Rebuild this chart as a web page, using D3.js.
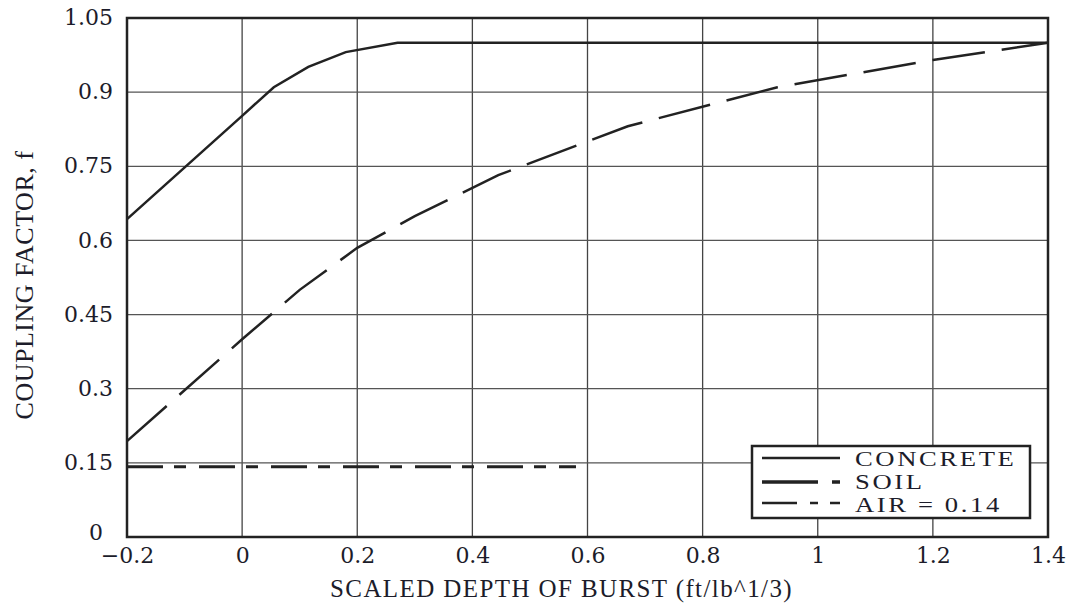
<!DOCTYPE html>
<meta charset="utf-8">
<style>
body { margin: 0; background: #fff; }
text { font-family: "Liberation Serif", "DejaVu Serif", serif; fill: #1c1c2a; }
</style>
<body>
<div id="chart"></div>
<script src="https://cdn.jsdelivr.net/npm/d3@7/dist/d3.min.js"></script>
<script>

// data
var concreteX = [-0.2, 0.0, 0.055, 0.115, 0.18, 0.27, 1.4];
var concreteY = [0.643, 0.852, 0.91, 0.951, 0.981, 1.0, 1.0];

var soilX = [-0.2, 0.0, 0.1, 0.2, 0.3, 0.445, 0.67, 0.93, 1.2, 1.4];
var soilY = [0.194, 0.40, 0.50, 0.585, 0.649, 0.732, 0.831, 0.91, 0.965, 1.0];

var airX = [-0.2, 0.58];
var airY = [0.142, 0.142];

var xTicks = [-0.2, 0, 0.2, 0.4, 0.6, 0.8, 1, 1.2, 1.4];
var yTicks = [0, 0.15, 0.3, 0.45, 0.6, 0.75, 0.9, 1.05];
var legendNames = ["CONCRETE", "SOIL", "AIR = 0.14"];

var width = 1076, height = 606;
var margin = {top: 18, right: 28, bottom: 69, left: 127};

var svg = d3.select("#chart").append("svg")
    .attr("width", width)
    .attr("height", height);

var x = d3.scaleLinear().domain([-0.2, 1.4]).range([margin.left, width - margin.right]);
var y = d3.scaleLinear().domain([0, 1.05]).range([height - margin.bottom, margin.top]);

// grille
svg.append("g")
    .selectAll("line")
    .data(xTicks)
    .enter().append("line")
        .attr("x1", d => x(d)).attr("x2", d => x(d))
        .attr("y1", y(0)).attr("y2", y(1.05))
        .attr("stroke", "#444").attr("stroke-width", 1.3);
svg.append("g")
    .selectAll("line")
    .data(yTicks)
    .enter().append("line")
        .attr("y1", d => y(d)).attr("y2", d => y(d))
        .attr("x1", x(-0.2)).attr("x2", x(1.4))
        .attr("stroke", "#555").attr("stroke-width", 1.3);

// axes (labels only)
var fmt = function(d) { return d === 0 ? "0" : (d < 0 ? "\u2212" + Math.abs(d) : String(d)); };
var xAxis = svg.append("g")
    .attr("transform", "translate(0," + y(0) + ")")
    .call(d3.axisBottom(x).tickValues(xTicks).tickFormat(fmt).tickSize(0).tickPadding(10));
var yAxis = svg.append("g")
    .attr("transform", "translate(" + x(-0.2) + ",0)")
    .call(d3.axisLeft(y).tickValues(yTicks).tickFormat(fmt).tickSize(0).tickPadding(14));
svg.selectAll(".domain").remove();
svg.selectAll(".tick text")
    .style("font-size", "22px")
    .style("font-family", "DejaVu Serif, serif")
    .attr("fill", "#1c1c2a");
yAxis.selectAll(".tick text").attr("dy", "0.3em");
xAxis.selectAll(".tick text").attr("dy", "0.72em");
// le zéro de l'axe y est un peu décalé dans l'original
yAxis.selectAll(".tick text").filter(d => d === 0).attr("x", -24).attr("dy", "0.1em");

// cadre
svg.append("rect")
    .attr("x", x(-0.2)).attr("y", y(1.05))
    .attr("width", x(1.4) - x(-0.2)).attr("height", y(0) - y(1.05))
    .attr("fill", "none").attr("stroke", "#222").attr("stroke-width", 2.5);

// courbes
function toPts(xs, ys) { return xs.map((v, i) => [x(v), y(ys[i])]); }
var line = d3.line();

svg.append("path")
    .attr("d", line(toPts(concreteX, concreteY)))
    .attr("fill", "none").attr("stroke", "#222").attr("stroke-width", 2.5);

svg.append("path")
    .attr("d", line(toPts(soilX, soilY)))
    .attr("fill", "none").attr("stroke", "#222").attr("stroke-width", 2.5)
    .attr("stroke-dasharray", "53,17");

svg.append("path")
    .attr("d", line(toPts(airX, airY)))
    .attr("fill", "none").attr("stroke", "#222").attr("stroke-width", 3)
    .attr("stroke-dasharray", "36,11,12,13");

// légende
var lg = svg.append("g");
lg.append("rect")
    .attr("x", 752).attr("y", 446).attr("width", 278).attr("height", 72)
    .attr("fill", "#fff").attr("stroke", "#222").attr("stroke-width", 2.5);
var styles = [
    {w: 2.5, dash: null},
    {w: 3.5, dash: "56,14,8,100"},
    {w: 2.5, dash: "35,13,8,12,10,100"}
];
var lineY = [458, 482, 503];
var textY = [466, 489, 512];
legendNames.forEach(function(name, i) {
    lg.append("line")
        .attr("x1", 762).attr("x2", 840).attr("y1", lineY[i]).attr("y2", lineY[i])
        .attr("stroke", "#222").attr("stroke-width", styles[i].w)
        .attr("stroke-dasharray", styles[i].dash);
    lg.append("text")
        .attr("transform", "translate(855," + textY[i] + ") scale(1.3,1)")
        .style("font-size", "20.5px")
        .style("letter-spacing", "2px")
        .text(name);
});

// titres des axes
svg.append("text")
    .attr("x", 330).attr("y", 597)
    .style("font-size", "25px")
    .style("letter-spacing", "1.4px")
    .text("SCALED DEPTH OF BURST (ft/lb^1/3)");
svg.append("text")
    .attr("transform", "translate(33,285) rotate(-90)")
    .attr("text-anchor", "middle")
    .style("font-size", "26px")
    .style("letter-spacing", "0.5px")
    .text("COUPLING FACTOR, f");

</script>
</body>
